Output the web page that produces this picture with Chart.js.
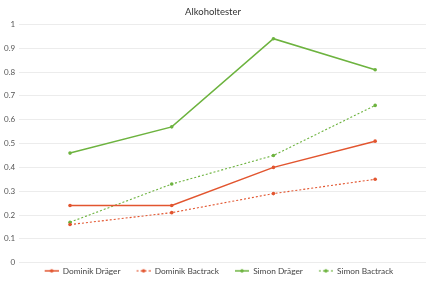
<!DOCTYPE html>
<html>
<head>
<meta charset="utf-8">
<script src="https://cdn.jsdelivr.net/npm/chart.js@4/dist/chart.umd.min.js"></script>
<style>
  html, body { margin: 0; padding: 0; background: #fff; }
  #wrap { width: 430px; height: 284px; }
</style>
</head>
<body>
<div id="wrap"><canvas id="myChart" width="430" height="284"></canvas></div>
<script>
'use strict';

let categories = ['1', '2', '3', '4'];
let dominikDraeger = [0.24, 0.24, 0.40, 0.51];
let dominikBactrack = [0.16, 0.21, 0.29, 0.35];
let simonDraeger = [0.46, 0.57, 0.94, 0.81];
let simonBactrack = [0.17, 0.33, 0.45, 0.66];
let yTicks = [0, 0.1, 0.2, 0.3, 0.4, 0.5, 0.6, 0.7, 0.8, 0.9, 1];

let red = '#e2552f';
let green = '#6db33f';

// legend marker: blank space on the left acts as gap, then a line with a dot
function legendIcon(color, dashed) {
  let c = document.createElement('canvas');
  c.width = 26;
  c.height = 6;
  let g = c.getContext('2d');
  g.strokeStyle = color;
  g.lineWidth = dashed ? 1.1 : 1.5;
  if (dashed) g.setLineDash([2, 2]);
  g.beginPath();
  g.moveTo(12, 3);
  g.lineTo(26, 3);
  g.stroke();
  g.fillStyle = color;
  g.beginPath();
  g.arc(19, 3, 1.8, 0, Math.PI * 2);
  g.fill();
  return c;
}

function makeSet(label, data, color, dashed) {
  return {
    label: label,
    data: data,
    borderColor: color,
    backgroundColor: color,
    borderWidth: dashed ? 1.1 : 1.5,
    borderDash: dashed ? [2, 2] : [],
    pointRadius: 1.8,
    pointHoverRadius: 2,
    pointBorderWidth: 0,
    pointStyle: 'circle',
    legendIcon: legendIcon(color, dashed),
    tension: 0
  };
}

let ctx = document.getElementById('myChart').getContext('2d');
let myChart = new Chart(ctx, {
  type: 'line',
  data: {
    labels: categories,
    datasets: [
      makeSet('Dominik Dräger', dominikDraeger, red, false),
      makeSet('Dominik Bactrack', dominikBactrack, red, true),
      makeSet('Simon Dräger', simonDraeger, green, false),
      makeSet('Simon Bactrack', simonBactrack, green, true)
    ]
  },
  options: {
    responsive: false,
    animation: false,
    layout: { padding: { left: 0, right: 4, top: 0, bottom: -1 } },
    plugins: {
      title: {
        display: true,
        text: 'Alkoholtester',
        color: '#333',
        font: { family: 'Lato', size: 9.5, weight: 'normal' },
        padding: { top: 6, bottom: 7 }
      },
      legend: {
        position: 'bottom',
        labels: {
          usePointStyle: true,
          pointStyleWidth: 26,
          boxHeight: 6,
          color: '#444',
          font: { family: 'Lato', size: 8.3 },
          padding: 4,
          generateLabels: function (chart) {
            let items = Chart.defaults.plugins.legend.labels.generateLabels(chart);
            items.forEach(function (it) {
              it.pointStyle = chart.data.datasets[it.datasetIndex].legendIcon;
            });
            return items;
          }
        }
      },
      tooltip: { enabled: false }
    },
    scales: {
      x: {
        offset: true,
        grid: { display: false, drawTicks: false },
        border: { display: false },
        ticks: { display: false }
      },
      y: {
        min: 0,
        max: 1,
        afterBuildTicks: function (axis) {
          axis.ticks = yTicks.map(function (v) { return { value: v }; });
        },
        grid: { color: '#ececec', drawTicks: false },
        border: { display: false },
        ticks: {
          color: '#555',
          padding: 4,
          font: { family: 'Lato', size: 8 },
          callback: function (v) { return String(Math.round(v * 10) / 10); }
        }
      }
    }
  }
});
</script>
</body>
</html>
